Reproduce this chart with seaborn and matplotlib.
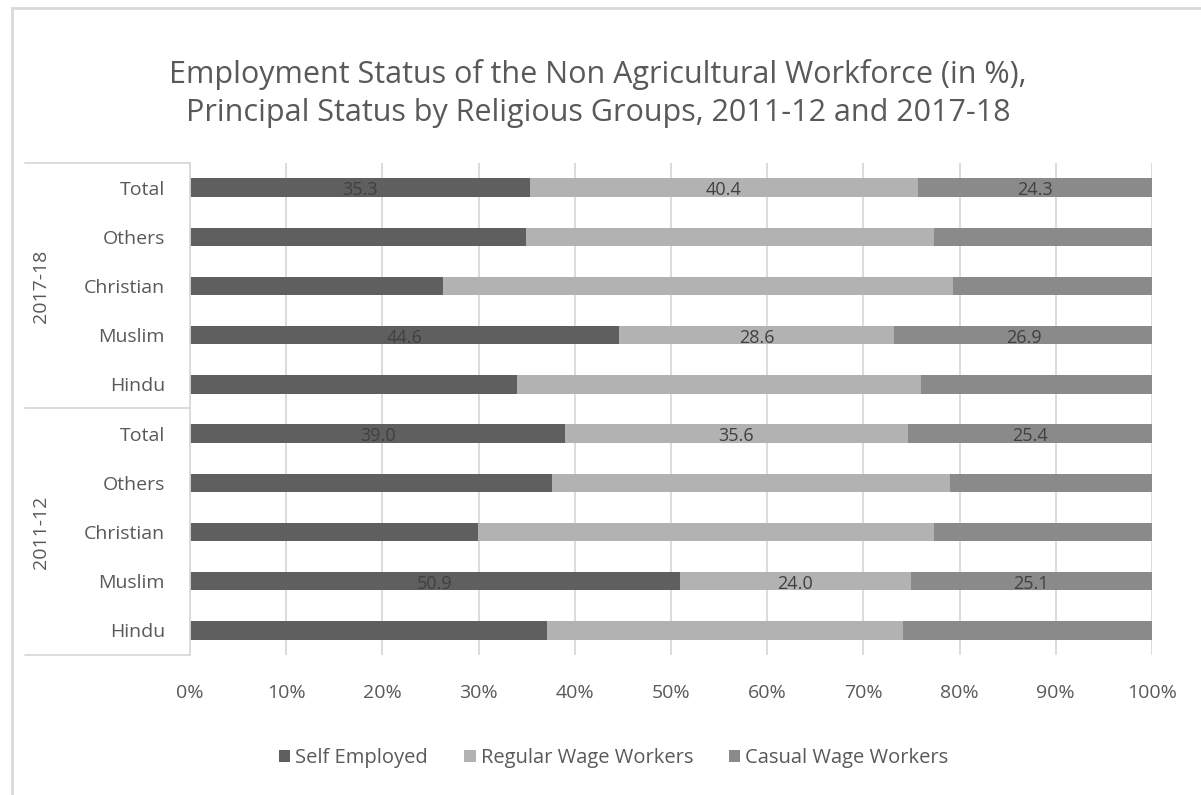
import numpy as np
import pandas as pd
import matplotlib
matplotlib.use("Agg")
import matplotlib.pyplot as plt
from matplotlib.lines import Line2D
from matplotlib.patches import Patch
import seaborn as sns

# Rows from top to bottom, grouped by survey round
periods = ["2017-18"] * 5 + ["2011-12"] * 5
groups = ["Total", "Others", "Christian", "Muslim", "Hindu",
          "Total", "Others", "Christian", "Muslim", "Hindu"]

self_employed = [35.3, 34.9, 26.3, 44.6, 34.0, 39.0, 37.6, 29.9, 50.9, 37.1]
regular_wage = [40.4, 42.4, 53.0, 28.6, 42.0, 35.6, 41.4, 47.4, 24.0, 37.0]
casual_wage = [24.3, 22.7, 20.7, 26.9, 24.0, 25.4, 21.0, 22.7, 25.1, 25.9]

# Only these rows carry value labels
labelled_rows = [0, 3, 5, 8]

series_names = ["Self Employed", "Regular Wage Workers", "Casual Wage Workers"]
series_colors = ["#5f5f5f", "#b2b2b2", "#8a8a8a"]
x_ticks = [0, 10, 20, 30, 40, 50, 60, 70, 80, 90, 100]

sns.set_theme(style="white")
plt.rcParams["font.family"] = ["Open Sans", "DejaVu Sans"]

W, H = 1201, 795
fig = plt.figure(figsize=(W / 100, H / 100), dpi=100)
ax = fig.add_axes([190 / W, 1 - 655 / H, (1152 - 190) / W, (655 - 163) / H])

keys = [f"{p}|{g}" for p, g in zip(periods, groups)]
vals = np.array([self_employed, regular_wage, casual_wage])
ends = np.cumsum(vals, axis=0)
starts = ends - vals

# Stack by drawing cumulative ends, widest layer first
for i in reversed(range(3)):
    df = pd.DataFrame({"row": keys, "end": ends[i]})
    sns.barplot(data=df, x="end", y="row", order=keys, orient="h",
                color=series_colors[i], saturation=1, width=0.37,
                edgecolor="none", ax=ax)

# Value labels centred in each segment
for r in labelled_rows:
    for i in range(3):
        ax.text((starts[i][r] + ends[i][r]) / 2, r + 0.05, f"{vals[i][r]:.1f}",
                ha="center", va="center", fontsize=13, color="#404040")

ax.set_xlim(0, 100)
ax.set_ylim(len(keys) - 0.5, -0.5)
ax.set_xticks(x_ticks)
ax.set_xticklabels([f"{t}%" for t in x_ticks], fontsize=14, color="#595959")
ax.set_yticks(range(len(keys)))
ax.set_yticklabels(groups, fontsize=14, color="#595959")
ax.tick_params(axis="x", length=0, pad=21)
ax.tick_params(axis="y", length=0, pad=18)
ax.set_xlabel("")
ax.set_ylabel("")

ax.set_axisbelow(True)
ax.grid(axis="x", color="#d9d9d9", linewidth=1.3)
ax.grid(axis="y", visible=False)
for side in ["top", "right", "bottom"]:
    ax.spines[side].set_visible(False)
ax.spines["left"].set_color("#d9d9d9")
ax.spines["left"].set_linewidth(1.3)

# Multi-level category axis: brackets and rotated period labels
line_x0 = 25 / W
line_x1 = 190 / W
for ypix in [163, 408, 655]:
    fig.add_artist(Line2D([line_x0, line_x1], [1 - ypix / H, 1 - ypix / H],
                          color="#d9d9d9", linewidth=1.3))
for p, rows in [("2017-18", range(0, 5)), ("2011-12", range(5, 10))]:
    ymid = np.mean(list(rows))
    ax.text(-0.155, ymid, p, transform=ax.get_yaxis_transform(),
            rotation=90, ha="center", va="center", fontsize=14, color="#595959")

# Chart border
fig.add_artist(Line2D([11.5 / W, 11.5 / W], [0, 1 - 8 / H], color="#d9d9d9", linewidth=2))
fig.add_artist(Line2D([11.5 / W, 1], [1 - 8 / H, 1 - 8 / H], color="#d9d9d9", linewidth=2))

fig.text(0.498, 1 - 75 / H, "Employment Status of the Non Agricultural Workforce (in %),",
         ha="center", va="center", fontsize=22, color="#595959")
fig.text(0.498, 1 - 113 / H, "Principal Status by Religious Groups, 2011-12 and 2017-18",
         ha="center", va="center", fontsize=22, color="#595959")

handles = [Patch(facecolor=c, edgecolor="none") for c in series_colors]
fig.legend(handles, series_names, loc="center", bbox_to_anchor=(614 / W, 1 - 758 / H),
           ncol=3, frameon=False, fontsize=14.5, handlelength=0.55, handleheight=0.55,
           handletextpad=0.25, columnspacing=1.8, labelcolor="#595959")

fig.savefig("out.png", dpi=100)
